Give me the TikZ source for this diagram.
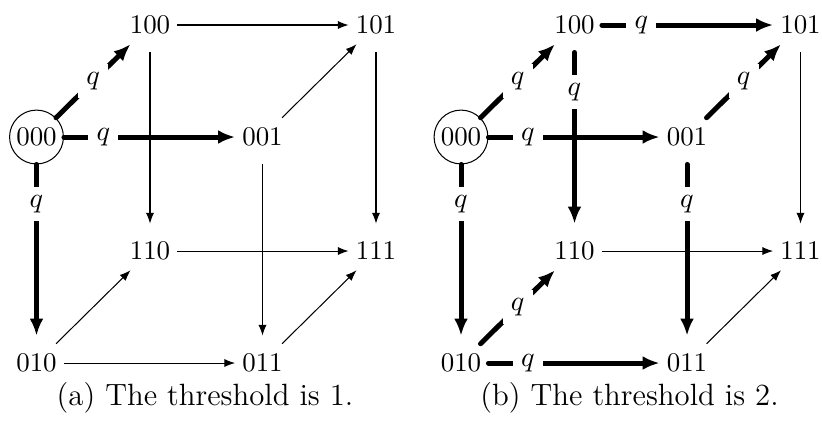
\documentclass[tikz,border=0pt]{standalone}
\usetikzlibrary{arrows.meta}
\begin{document}
\begin{tikzpicture}[x=0.39pt,y=-0.39pt,
  st/.style={circle, inner sep=0pt, minimum size=21pt, font=\fontsize{10.5}{12.6}\selectfont},
  stz/.style={st, draw, line width=0.4pt},
  tedge/.style={line width=0.4pt, -{Latex[length=4.2pt,width=3.2pt]}},
  kedge/.style={line width=1.95pt, line cap=round, -{Latex[length=6.6pt,width=5.4pt]}},
  ql/.style={fill=white, inner sep=3.2pt, font=\fontsize{10.5}{12.6}\selectfont},
  captext/.style={anchor=base, inner sep=0pt, font=\fontsize{12}{14.4}\selectfont}]
\useasboundingbox (0,0) rectangle (822,421);
% ---------- (a) ----------
\node[stz] (a000) at (36.5,137) {000};
\node[st] (a001) at (262.5,137) {001};
\node[st] (a010) at (36.5,363) {010};
\node[st] (a011) at (262.5,363) {011};
\node[st] (a100) at (150,25) {100};
\node[st] (a101) at (376,25) {101};
\node[st] (a110) at (150,251) {110};
\node[st] (a111) at (376,251) {111};
\draw[tedge] (a100) -- (a101);
\draw[tedge] (a100) -- (a110);
\draw[tedge] (a001) -- (a101);
\draw[tedge] (a001) -- (a011);
\draw[tedge] (a010) -- (a110);
\draw[tedge] (a010) -- (a011);
\draw[tedge] (a110) -- (a111);
\draw[tedge] (a101) -- (a111);
\draw[tedge] (a011) -- (a111);
\draw[kedge] (a000) -- node[ql,pos=0.5]{$q$} (a100);
\draw[kedge] (a000) -- node[ql,pos=0.23]{$q$} (a001);
\draw[kedge] (a000) -- node[ql,pos=0.23]{$q$} (a010);
\node[captext] (capa) at (205,405) {(a) The threshold is 1.};
% ---------- (b) ----------
\node[stz] (b000) at (461,137) {000};
\node[st] (b001) at (687,137) {001};
\node[st] (b010) at (461,363) {010};
\node[st] (b011) at (687,363) {011};
\node[st] (b100) at (574.5,25) {100};
\node[st] (b101) at (800.5,25) {101};
\node[st] (b110) at (574.5,251) {110};
\node[st] (b111) at (800.5,251) {111};
\draw[tedge] (b110) -- (b111);
\draw[tedge] (b101) -- (b111);
\draw[tedge] (b011) -- (b111);
\draw[kedge] (b000) -- node[ql,pos=0.5]{$q$} (b100);
\draw[kedge] (b000) -- node[ql,pos=0.23]{$q$} (b001);
\draw[kedge] (b000) -- node[ql,pos=0.23]{$q$} (b010);
\draw[kedge] (b100) -- node[ql,pos=0.23]{$q$} (b101);
\draw[kedge] (b100) -- node[ql,pos=0.23]{$q$} (b110);
\draw[kedge] (b001) -- node[ql,pos=0.5]{$q$} (b101);
\draw[kedge] (b001) -- node[ql,pos=0.23]{$q$} (b011);
\draw[kedge] (b010) -- node[ql,pos=0.5]{$q$} (b110);
\draw[kedge] (b010) -- node[ql,pos=0.23]{$q$} (b011);
\node[captext] (capb) at (629.5,405) {(b) The threshold is 2.};
\end{tikzpicture}
\end{document}
